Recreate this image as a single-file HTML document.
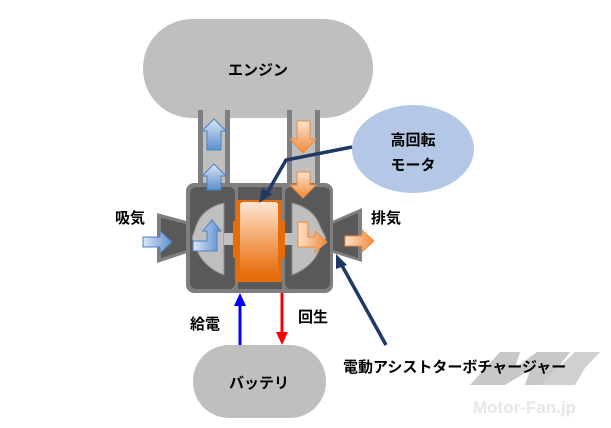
<!DOCTYPE html>
<html><head><meta charset="utf-8"><style>
html,body{margin:0;padding:0;background:#fff;width:611px;height:428px;overflow:hidden}
text{font-family:"Liberation Sans","Noto Sans CJK JP",sans-serif;font-weight:bold;fill:#000}
</style></head><body>
<svg width="611" height="428" viewBox="0 0 611 428" xmlns="http://www.w3.org/2000/svg">
<defs>
<linearGradient id="bl" x1="0" y1="0" x2="1" y2="0"><stop offset="0" stop-color="#dbe6f6"/><stop offset="1" stop-color="#5b8ed0"/></linearGradient>
<linearGradient id="blv" x1="0" y1="1" x2="0" y2="0"><stop offset="0" stop-color="#5b8ed0"/><stop offset="1" stop-color="#dbe6f6"/></linearGradient>
<linearGradient id="orv" x1="0" y1="0" x2="0" y2="1"><stop offset="0" stop-color="#fde3cc"/><stop offset="1" stop-color="#f08a3a"/></linearGradient>
<linearGradient id="orh" x1="0" y1="0" x2="1" y2="0"><stop offset="0" stop-color="#fde3cc"/><stop offset="1" stop-color="#f08a3a"/></linearGradient>
<linearGradient id="mot" x1="0" y1="0" x2="0" y2="1"><stop offset="0" stop-color="#fde7d3"/><stop offset="0.6" stop-color="#f39a55"/><stop offset="1" stop-color="#e46c0a"/></linearGradient>
</defs>
<!-- engine -->
<rect x="143" y="19" width="230" height="99" rx="49" fill="#bfbfbf"/>
<text x="258" y="75" font-size="15" text-anchor="middle">エンジン</text>
<!-- pipes -->
<rect x="198" y="110" width="32" height="78" fill="#7f7f7f"/>
<rect x="203" y="110" width="22" height="78" fill="#bfbfbf"/>
<rect x="287" y="110" width="33" height="78" fill="#7f7f7f"/>
<rect x="292" y="110" width="23" height="78" fill="#bfbfbf"/>
<!-- inlet / outlet -->
<polygon points="157,213 190,222 190,252 157,263" fill="#7f7f7f"/>
<polygon points="161,218 190,225 190,249 161,258" fill="#595959"/>
<polygon points="330,222 362,208 362,262 330,252" fill="#7f7f7f"/>
<polygon points="330,225 358,213 358,258 330,249" fill="#595959"/>
<!-- housing -->
<rect x="186" y="183" width="147" height="110" rx="8" fill="#7f7f7f"/>
<rect x="190" y="187" width="45" height="102" rx="6" fill="#595959"/>
<rect x="238" y="187" width="44" height="102" fill="#595959"/>
<rect x="285" y="187" width="45" height="102" rx="6" fill="#595959"/>
<!-- wheels -->
<path d="M224,203 L224,275 C210,270 200,260 196,248 L192,238 L196,226 C200,214 210,206 224,203Z" fill="#bfbfbf" stroke="#888" stroke-width="1"/>
<path d="M292,203 L292,275 C306,270 316,260 320,248 L326,238 L320,226 C316,214 306,206 292,203Z" fill="#bfbfbf" stroke="#888" stroke-width="1"/>
<rect x="224" y="233" width="12" height="12" fill="#bfbfbf"/>
<rect x="282" y="233" width="12" height="12" fill="#bfbfbf"/>
<!-- motor -->
<rect x="233" y="221" width="52" height="37" fill="#e46c0a"/>
<rect x="236" y="200" width="46" height="82" fill="#e46c0a"/>
<rect x="240" y="202" width="38" height="74" rx="3" fill="url(#mot)"/>
<!-- blue arrows -->
<polygon points="207,150 207,131 202,131 214,119 226,131 221,131 221,150" fill="url(#blv)" stroke="#4f81bd"/>
<polygon points="207,190 207,176 202,176 214,164 226,176 221,176 221,190" fill="url(#blv)" stroke="#4f81bd"/>
<path d="M193,241 L207,241 L207,231 L203,231 L212,220 L221,231 L217,231 L217,251 L193,251Z" fill="url(#bl)" stroke="#4f81bd"/>
<polygon points="143,237 160,237 160,231 172,242 160,253 160,247 143,247" fill="url(#bl)" stroke="#4f81bd"/>
<!-- orange arrows -->
<polygon points="297,121 310,121 310,139 316,139 303,153 290,139 297,139" fill="url(#orv)" stroke="#f08a3a"/>
<polygon points="297,172 310,172 310,185 316,185 303,198 290,185 297,185" fill="url(#orv)" stroke="#f08a3a"/>
<path d="M298,222 L308,222 L308,237 L315,237 L315,231 L327,242 L315,252 L315,247 L298,247Z" fill="url(#orh)" stroke="#f08a3a"/>
<polygon points="345,236 362,236 362,230 374,241 362,252 362,246 345,246" fill="url(#orh)" stroke="#f08a3a"/>
<!-- motor bubble -->
<ellipse cx="413" cy="149" rx="61" ry="44" fill="#b4c7e7"/>
<text x="413" y="145" font-size="15" text-anchor="middle">高回転</text>
<text x="413" y="170" font-size="15" text-anchor="middle">モータ</text>
<polyline points="352,147 286,160 266,195" fill="none" stroke="#1f3864" stroke-width="3.5"/>
<polygon points="259,203 262,188 272,194" fill="#1f3864"/>
<!-- assist leader -->
<line x1="386" y1="345" x2="340" y2="262" stroke="#1f3864" stroke-width="3.5"/>
<polygon points="336,254 347,265 336,269" fill="#1f3864"/>
<!-- labels -->
<text x="115" y="223" font-size="15">吸気</text>
<text x="371" y="223" font-size="15">排気</text>
<text x="190" y="329" font-size="15">給電</text>
<text x="298" y="322" font-size="15">回生</text>
<!-- power arrows -->
<line x1="240" y1="345" x2="240" y2="304" stroke="#0000ff" stroke-width="3"/>
<polygon points="240,293 234,306 246,306" fill="#0000ff"/>
<line x1="282" y1="293" x2="282" y2="334" stroke="#ff0000" stroke-width="3"/>
<polygon points="282,345 276,332 288,332" fill="#ff0000"/>
<!-- battery -->
<rect x="193" y="345" width="133" height="73" rx="36" fill="#bfbfbf"/>
<text x="259" y="388" font-size="15" text-anchor="middle">バッテリ</text>
<!-- watermark -->
<polygon points="470,385 500,352 520,352 515,368 537,352 570,352 545,385 525,385 530,370 505,385" fill="#c8c8c8"/>
<polygon points="540,385 575,352 600,352 585,368 575,385" fill="#d0d0d0"/>
<text x="473" y="413" font-size="17" style="fill:#e6e6e6">Motor-Fan.jp</text>
<text x="343" y="372" font-size="15">電動アシストターボチャージャー</text>
</svg>
</body></html>
